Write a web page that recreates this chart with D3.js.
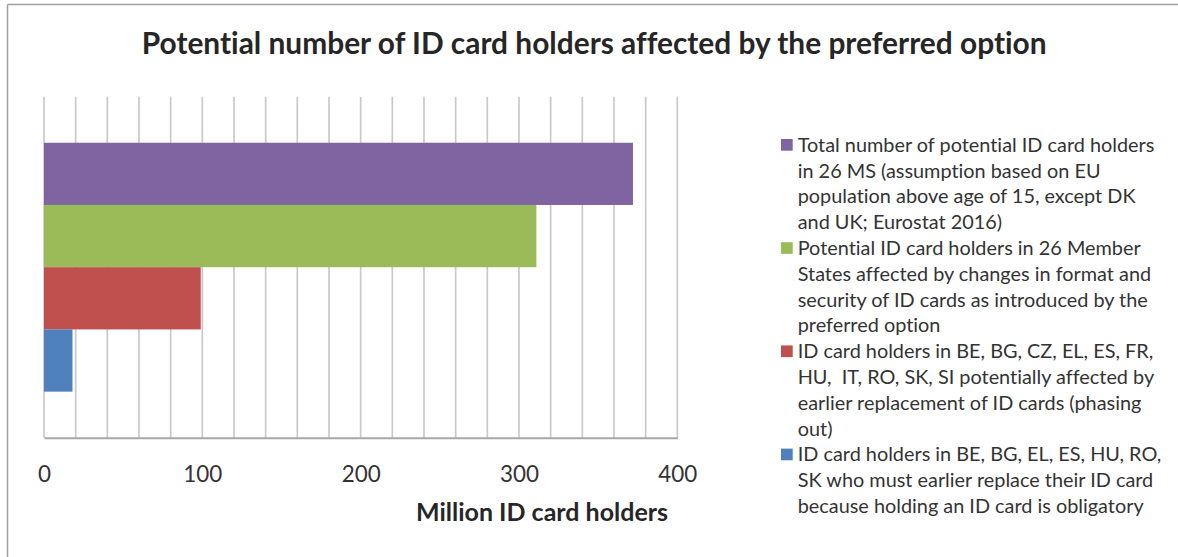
<!DOCTYPE html>
<html>
<head>
<meta charset="utf-8">
<script src="https://cdn.jsdelivr.net/npm/d3@7"></script>
<style>
  html, body { margin: 0; padding: 0; background: #fff; }
  svg text { white-space: pre; font-variant-ligatures: none; font-feature-settings: "liga" 0, "clig" 0; }
</style>
</head>
<body>
<svg id="chart" width="1178" height="557"></svg>
<script>
// ---- data ----
const chartTitle = "Potential number of ID card holders affected by the preferred option";
const axisTitle = "Million ID card holders";
const categories = ["ID card holders"];
const seriesKeys = ["total", "format", "phasing", "obligatory"];
const seriesValues = [372, 311, 99, 18];
const seriesColors = ["#8064a2", "#9bbb59", "#c0504d", "#4f81bd"];
const seriesLabels = [
  ["Total number of potential ID card holders", "in 26 MS (assumption based on EU", "population above age of 15, except DK", "and UK; Eurostat 2016)"],
  ["Potential ID card holders in 26 Member", "States affected by changes in format and", "security of ID cards as introduced by the", "preferred option"],
  ["ID card holders in BE, BG, CZ, EL, ES, FR,", "HU,  IT, RO, SK, SI potentially affected by", "earlier replacement of ID cards (phasing", "out)"],
  ["ID card holders in BE, BG, EL, ES, HU, RO,", "SK who must earlier replace their ID card", "because holding an ID card is obligatory"]
];
const xTicks = [0, 100, 200, 300, 400];
const xGrid = d3.range(0, 401, 20);

// ---- layout ----
const svg = d3.select("#chart");
const FONT = "Lato, 'Open Sans', sans-serif";
const plot = { left: 44, right: 677.3, top: 96.7, bottom: 437.7 };

function fit(sel, target) {
  const w = sel.node().getComputedTextLength();
  const fs = parseFloat(sel.attr("font-size"));
  sel.attr("font-size", fs * target / w);
  return fs * target / w;
}

// border (top & left)
svg.append("line").attr("x1", 7.5).attr("x2", 1178).attr("y1", 4.5).attr("y2", 4.5)
  .attr("stroke", "#a0a0a0").attr("stroke-width", 1.5);
svg.append("line").attr("x1", 7.5).attr("x2", 7.5).attr("y1", 4.5).attr("y2", 557)
  .attr("stroke", "#a0a0a0").attr("stroke-width", 1.5);

// title
const t = svg.append("text").text(chartTitle)
  .attr("x", 594.2).attr("y", 54).attr("text-anchor", "middle")
  .attr("font-family", FONT).attr("font-weight", "bold").attr("font-size", 28)
  .attr("fill", "#262626");
fit(t, 905);

// scales
const x = d3.scaleLinear().domain([0, 400]).range([plot.left, plot.right]);
const y0 = d3.scaleBand().domain(categories).range([plot.top, plot.bottom])
  .paddingInner(0).paddingOuter(0.185);
const y1 = d3.scaleBand().domain(seriesKeys).range([0, y0.bandwidth()]);

// gridlines
svg.append("g").selectAll("line").data(xGrid).join("line")
  .attr("x1", d => x(d)).attr("x2", d => x(d))
  .attr("y1", plot.top).attr("y2", plot.bottom)
  .attr("stroke", "#c8c8ce").attr("stroke-width", 1.7);

// bars
const g = svg.append("g").attr("transform", `translate(0,${y0(categories[0])})`);
g.selectAll("rect").data(seriesKeys).join("rect")
  .attr("x", x(0))
  .attr("y", k => y1(k))
  .attr("width", (k, i) => x(seriesValues[i]) - x(0))
  .attr("height", y1.bandwidth())
  .attr("fill", (k, i) => seriesColors[i]);

// x axis
const axis = svg.append("g").attr("transform", `translate(0,${plot.bottom})`)
  .call(d3.axisBottom(x).tickValues(xTicks).tickSize(0).tickPadding(0));
axis.select(".domain").attr("stroke", "#a6a6a6").attr("stroke-width", 2);
axis.selectAll("text").attr("font-family", FONT).attr("font-size", 24)
  .attr("fill", "#333").attr("dy", null).attr("y", 44);
const lastTick = axis.selectAll("text").filter(d => d === 400);
const tickSize = fit(lastTick, 39);
axis.selectAll("text").attr("font-size", tickSize);
axis.attr("font-family", null).attr("font-size", null);

// axis title
const at = svg.append("text").text(axisTitle)
  .attr("x", 668).attr("y", 520.5).attr("text-anchor", "end")
  .attr("font-family", FONT).attr("font-weight", "bold").attr("font-size", 22)
  .attr("fill", "#262626");
fit(at, 252);

// legend
const lineH = 25.8;
const legend = svg.append("g");
let lineIdx = 0;
const starts = [];
seriesLabels.forEach(lines => { starts.push(lineIdx); lineIdx += lines.length; });
const firstCenter = 145;
let legendSize = 20;
seriesLabels.forEach((lines, i) => {
  const cy = firstCenter + starts[i] * lineH;
  legend.append("rect").attr("x", 781).attr("y", cy - 6).attr("width", 11.7).attr("height", 11.7)
    .attr("fill", seriesColors[i]);
  lines.forEach((ln, j) => {
    legend.append("text").attr("class", "lg").text(ln)
      .attr("x", 797.7).attr("y", cy + j * lineH + 6.8)
      .attr("font-family", FONT).attr("font-size", legendSize).attr("fill", "#333");
  });
});
const ref = legend.selectAll("text.lg").filter((d, i, n) => n[i].textContent === seriesLabels[0][0]);
legendSize = fit(ref, 357);
legend.selectAll("text.lg").attr("font-size", legendSize);
</script>
</body>
</html>
